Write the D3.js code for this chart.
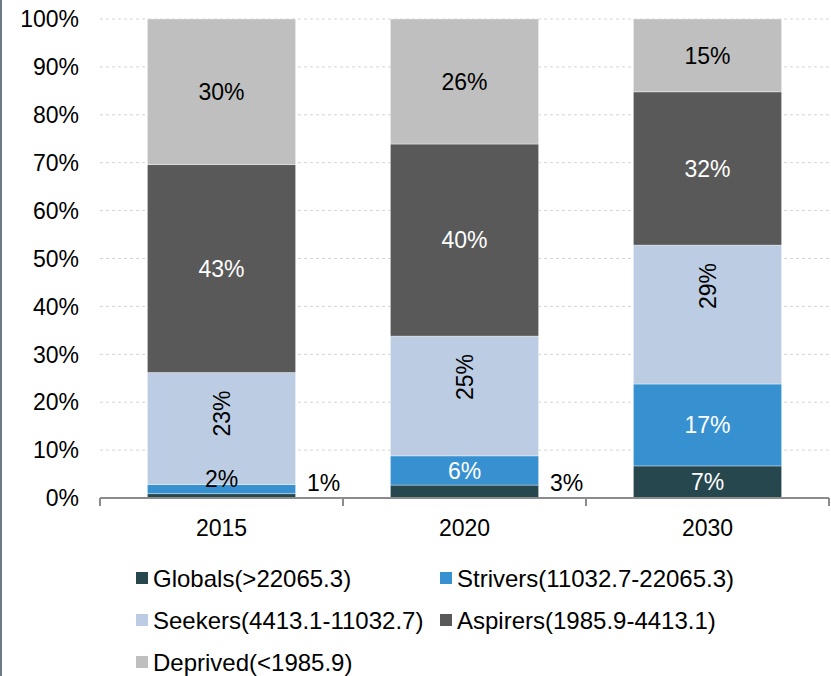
<!DOCTYPE html>
<html>
<head>
<meta charset="utf-8">
<script src="https://cdn.jsdelivr.net/npm/d3@7"></script>
<style>
  html, body { margin: 0; padding: 0; background: #fff; }
  svg { display: block; font-family: "Liberation Sans", Arial, sans-serif; }
</style>
</head>
<body>
<svg id="chart" width="831" height="676"></svg>
<script>
// ---- data ----
const years = ["2015", "2020", "2030"];
const seriesNames = ["Globals(>22065.3)", "Strivers(11032.7-22065.3)", "Seekers(4413.1-11032.7)", "Aspirers(1985.9-4413.1)", "Deprived(<1985.9)"];
const seriesKeys = ["globals", "strivers", "seekers", "aspirers", "deprived"];
const globals  = [0.9, 2.7, 6.7];
const strivers = [1.9, 6.1, 17.1];
const seekers  = [23.4, 25.0, 29.0];
const aspirers = [43.4, 40.1, 32.0];
const deprived = [30.4, 26.1, 15.2];
const yTickLabels = ["0%", "10%", "20%", "30%", "40%", "50%", "60%", "70%", "80%", "90%", "100%"];
const colors = ["#27474f", "#3791d0", "#bccde3", "#595959", "#bfbfbf"];
const darkSeries = [true, true, false, true, false];

const valuesBySeries = { globals, strivers, seekers, aspirers, deprived };
const table = years.map((yr, i) => {
  const row = { year: yr };
  seriesKeys.forEach(k => row[k] = valuesBySeries[k][i]);
  return row;
});

// ---- layout ----
const svg = d3.select("#chart");
const mLeft = 100, mRight = 829, mTop = 19, mBottom = 498;
const fs = 23;
const fsLegend = 24;

const x = d3.scaleBand().domain(years).range([mLeft, mRight]).paddingInner(0.39).paddingOuter(0.195);
const y = d3.scaleLinear().domain([0, 100]).range([mBottom, mTop]);

// frame line on the left
svg.append("rect").attr("x", 0).attr("y", 0).attr("width", 2).attr("height", 676).attr("fill", "#6d7a84");

// gridlines
const tickVals = d3.range(0, 101, 10);
svg.append("g").selectAll("line").data(tickVals.slice(1)).join("line")
  .attr("x1", mLeft).attr("x2", mRight)
  .attr("y1", d => y(d)).attr("y2", d => y(d))
  .attr("stroke", "#d4d4d4").attr("stroke-width", 1).attr("stroke-dasharray", "3,3");

// y tick labels
svg.append("g").selectAll("text").data(tickVals).join("text")
  .attr("x", 79).attr("y", d => y(d)).attr("dy", "0.36em")
  .attr("text-anchor", "end").attr("font-size", fs).attr("fill", "#000")
  .text((d, i) => yTickLabels[i]);

// stacked bars
const stack = d3.stack().keys(seriesKeys)(table);
const gBars = svg.append("g");
stack.forEach((layer, si) => {
  gBars.append("g").selectAll("rect").data(layer).join("rect")
    .attr("x", d => x(d.data.year))
    .attr("width", x.bandwidth())
    .attr("y", d => y(d[1]))
    .attr("height", d => y(d[0]) - y(d[1]))
    .attr("fill", colors[si])
    .attr("stroke", "rgba(255,255,255,0.45)")
    .attr("stroke-width", 0.8);
});

// x axis
const gx = svg.append("g");
gx.append("line").attr("x1", mLeft).attr("x2", mRight).attr("y1", mBottom).attr("y2", mBottom)
  .attr("stroke", "#8c8c8c").attr("stroke-width", 2);
const boundaries = [mLeft].concat(years.map(yr => x(yr) + x.bandwidth() + x.step() * x.paddingInner() / 2));
boundaries[boundaries.length - 1] = mRight;
gx.selectAll("line.tick").data(boundaries).join("line").attr("class", "tick")
  .attr("x1", d => d).attr("x2", d => d).attr("y1", mBottom).attr("y2", mBottom + 8)
  .attr("stroke", "#8c8c8c").attr("stroke-width", 2);
gx.selectAll("text").data(years).join("text")
  .attr("x", d => x(d) + x.bandwidth() / 2).attr("y", 528).attr("dy", "0.36em")
  .attr("text-anchor", "middle").attr("font-size", fs).attr("fill", "#000")
  .text(d => d);

// labels
const gLab = svg.append("g");
stack.forEach((layer, si) => {
  layer.forEach(d => {
    const v = d[1] - d[0];
    const txt = Math.round(v) + "%";
    const cx = x(d.data.year) + x.bandwidth() / 2;
    const yTop = y(d[1]), yBot = y(d[0]);
    const h = yBot - yTop;
    const cy = (yTop + yBot) / 2;
    if (seriesKeys[si] === "seekers") {
      gLab.append("text")
        .attr("transform", `translate(${cx},${yTop + 41}) rotate(-90)`)
        .attr("dy", "0.36em").attr("text-anchor", "middle")
        .attr("font-size", fs).attr("fill", "#000").text(txt);
      return;
    }
    let lx = cx, ly = cy, col = darkSeries[si] ? "#fff" : "#000";
    if (h < 16) {
      col = "#000";
      if (seriesKeys[si] === "globals") {
        lx = x(d.data.year) + x.bandwidth() + 28;
        ly = mBottom - 15;
      } else {
        ly = cy - 10;
      }
    }
    gLab.append("text").attr("x", lx).attr("y", ly).attr("dy", "0.36em")
      .attr("text-anchor", "middle").attr("font-size", fs).attr("fill", col).text(txt);
  });
});

// legend
const legendPos = [
  { x: 136, y: 578 }, { x: 440, y: 578 },
  { x: 136, y: 620 }, { x: 440, y: 620 },
  { x: 136, y: 662 }
];
const gLeg = svg.append("g");
seriesNames.forEach((name, i) => {
  const p = legendPos[i];
  gLeg.append("rect").attr("x", p.x).attr("y", p.y - 6).attr("width", 12).attr("height", 12).attr("fill", colors[i]);
  gLeg.append("text").attr("x", p.x + 17).attr("y", p.y).attr("dy", "0.36em")
    .attr("font-size", fsLegend).attr("fill", "#000").text(name);
});
</script>
</body>
</html>
